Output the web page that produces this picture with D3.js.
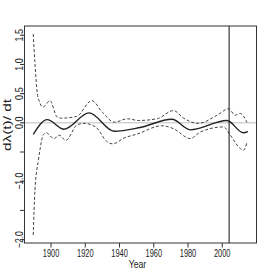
<!DOCTYPE html>
<html>
<head>
<meta charset="utf-8">
<script src="https://cdn.jsdelivr.net/npm/d3@7"></script>
<style>
  body { margin: 0; background: #fff; }
  text { font-family: "Liberation Sans", Arial, sans-serif; fill: #222; }
</style>
</head>
<body>
<div id="chart"></div>
<script>
// chart size
const canvWidth = 266, canvHeight = 277;
const margin = {top: 26, right: 9.5, bottom: 34, left: 24.5};
const width = canvWidth - margin.left - margin.right;
const height = canvHeight - margin.top - margin.bottom;

// estimate (solid line)
const estYears  = [1889.6, 1897.8, 1907.6, 1922.2, 1936.8, 1952, 1970.6, 1981.3, 2002.7, 2012.3, 2015];
const estValues = [-0.20, 0.055, -0.11, 0.17, -0.145, -0.08, 0.06, -0.12, 0.04, -0.17, -0.15];

// upper band (dashed)
const upperYears  = [1889.6, 1890.6, 1892, 1893, 1895.3, 1899.4, 1903.5, 1906, 1915, 1923.8, 1930,
                     1937, 1944.6, 1951, 1962, 1971.5, 1977.4, 1986, 1997, 2003.7, 2007.6, 2010.5, 2014.4];
const upperValues = [1.52, 1.02, 0.5, 0.38, 0.27, 0.38, 0.10, 0.08, 0.11, 0.38, 0.18,
                     0.01, 0.07, 0.04, 0.07, 0.21, 0.08, -0.01, 0.13, 0.24, 0.13, 0.16, 0.01];

// lower band (dashed)
const lowerYears  = [1889.6, 1890.6, 1892.6, 1893.6, 1895.5, 1897, 1901.8, 1904.7, 1908.6, 1915.4, 1919.3,
                     1926, 1933, 1936, 1942.7, 1950.5, 1964.7, 1971.5, 1981.3, 1987, 2000.8, 2004.7,
                     2010.5, 2012.5, 2014.4];
const lowerValues = [-1.92, -1.15, -0.64, -0.45, -0.20, -0.17, -0.27, -0.21, -0.30, -0.03, -0.01,
                     -0.07, -0.33, -0.36, -0.26, -0.19, -0.05, -0.10, -0.27, -0.16, -0.07, -0.21,
                     -0.44, -0.47, -0.33];

const refYear = 2004;
const xTicks = [1900, 1920, 1940, 1960, 1980, 2000];
const yTicks = [-2, -1.5, -1, -0.5, 0, 0.5, 1, 1.5];
const yLabels = ["1.5", "1.0", "0.5", "0.0", "-1.0", "-2.0"];

const svg = d3.select("#chart").append("svg")
    .attr("width", canvWidth)
    .attr("height", canvHeight);

const g = svg.append("g")
    .attr("transform", `translate(${margin.left},${margin.top})`);

const x = d3.scaleLinear().domain([1884.5, 2020]).range([0, width]);
const y = d3.scaleLinear().domain([-2.058, 1.658]).range([height, 0]);

const toPts = (ys, vs) => ys.map((yr, i) => [yr, vs[i]]);

const line = d3.line()
    .x(d => x(d[0]))
    .y(d => y(d[1]))
    .curve(d3.curveMonotoneX);

// zero reference line
g.append("line")
    .attr("x1", 0).attr("x2", width)
    .attr("y1", y(0)).attr("y2", y(0))
    .attr("stroke", "#bdbdbd")
    .attr("stroke-width", 1);

// bands
[toPts(upperYears, upperValues), toPts(lowerYears, lowerValues)].forEach(pts => {
  g.append("path")
      .datum(pts)
      .attr("d", line)
      .attr("fill", "none")
      .attr("stroke", "#444")
      .attr("stroke-width", 1)
      .attr("stroke-dasharray", "3,2");
});

// estimate
g.append("path")
    .datum(toPts(estYears, estValues))
    .attr("d", line)
    .attr("fill", "none")
    .attr("stroke", "#222")
    .attr("stroke-width", 1.4);

// vertical marker
g.append("line")
    .attr("x1", x(refYear)).attr("x2", x(refYear))
    .attr("y1", 0).attr("y2", height)
    .attr("stroke", "#111")
    .attr("stroke-width", 1);

// box
g.append("rect")
    .attr("width", width).attr("height", height)
    .attr("fill", "none")
    .attr("stroke", "#333")
    .attr("stroke-width", 1);

// x axis ticks + labels
const xAxis = g.append("g").attr("transform", `translate(0,${height})`);
xAxis.selectAll("line").data(xTicks).join("line")
    .attr("x1", d => x(d)).attr("x2", d => x(d))
    .attr("y1", 0).attr("y2", 4.5)
    .attr("stroke", "#333");
xAxis.selectAll("text").data(xTicks).join("text")
    .attr("x", d => x(d)).attr("y", 14)
    .attr("text-anchor", "middle")
    .attr("font-size", 11)
    .attr("textLength", 16.5)
    .attr("lengthAdjust", "spacingAndGlyphs")
    .text(d => d);

// y axis ticks + labels
const yAxis = g.append("g");
yAxis.selectAll("line").data(yTicks).join("line")
    .attr("x1", -4.5).attr("x2", 0)
    .attr("y1", d => y(d)).attr("y2", d => y(d))
    .attr("stroke", "#333");
yAxis.selectAll("text").data(yLabels).join("text")
    .attr("transform", d => `translate(-1.5,${y(+d)}) rotate(-90)`)
    .attr("text-anchor", "middle")
    .attr("font-size", 11)
    .attr("textLength", d => d.length * 4.2)
    .attr("lengthAdjust", "spacingAndGlyphs")
    .text(d => d.replace("-", "\u2212"));

// axis titles
svg.append("text")
    .attr("x", margin.left + x(1950.5)).attr("y", 268)
    .attr("text-anchor", "middle")
    .attr("font-size", 11)
    .attr("textLength", 17.5)
    .attr("lengthAdjust", "spacingAndGlyphs")
    .text("Year");

svg.append("text")
    .attr("transform", "translate(10.5,125) rotate(-90)")
    .attr("text-anchor", "middle")
    .attr("font-size", 11)
    .attr("textLength", 52)
    .attr("lengthAdjust", "spacingAndGlyphs")
    .text("dλ(t)/ dt");
</script>
</body>
</html>
